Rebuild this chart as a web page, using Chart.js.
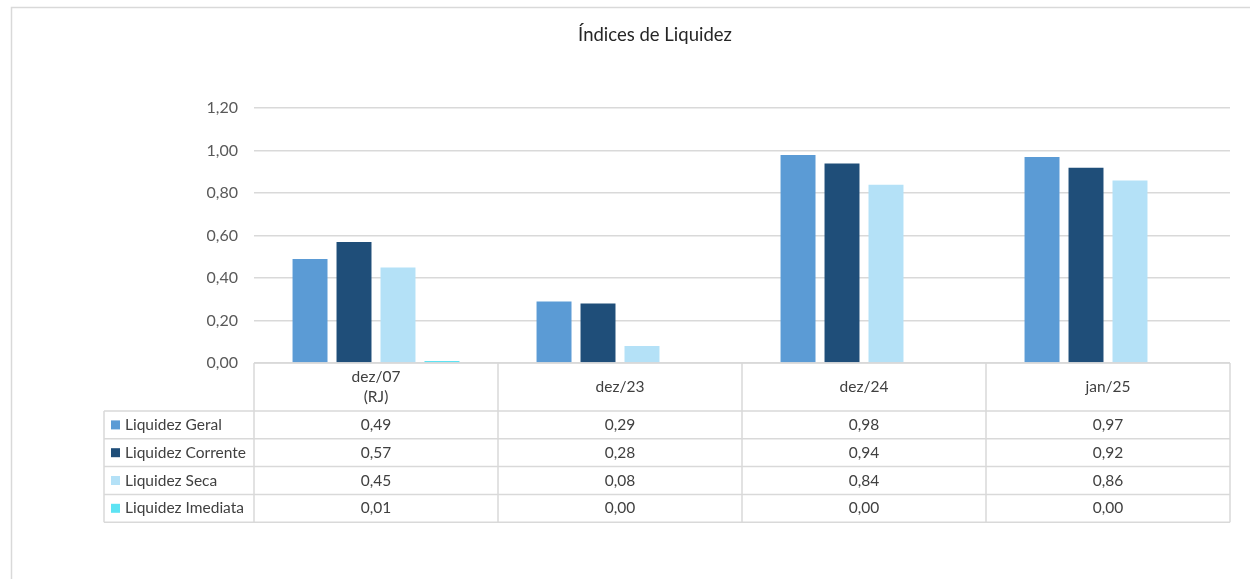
<!DOCTYPE html>
<html>
<head>
<meta charset="utf-8">
<title>Índices de Liquidez</title>
<script src="https://cdn.jsdelivr.net/npm/chart.js@4/dist/chart.umd.min.js"></script>
<style>
    html, body { margin: 0; padding: 0; background: #ffffff; }
    #grafico { display: block; }
</style>
</head>
<body>
<canvas id="grafico" width="1250" height="579"></canvas>
<script>
// dados
var categorias = [["dez/07", "(RJ)"], "dez/23", "dez/24", "jan/25"];
var liquidezGeral = [0.49, 0.29, 0.98, 0.97];
var liquidezCorrente = [0.57, 0.28, 0.94, 0.92];
var liquidezSeca = [0.45, 0.08, 0.84, 0.86];
var liquidezImediata = [0.01, 0.00, 0.00, 0.00];
var nomesSeries = ["Liquidez Geral", "Liquidez Corrente", "Liquidez Seca", "Liquidez Imediata"];
var coresSeries = ["#5B9BD5", "#1F4E79", "#B4E1F7", "#5DE3F3"];
var eixoYMax = 1.2;
var eixoYPasso = 0.2;

var fonte = "Lato, 'Liberation Sans', sans-serif";

function formatar(v) {
    return v.toFixed(2).replace(".", ",");
}

// moldura cinza do gráfico (só esquerda e topo aparecem)
var moldura = {
    id: "moldura",
    beforeDraw: function (chart) {
        var ctx = chart.ctx;
        ctx.save();
        ctx.strokeStyle = "#d9d9d9";
        ctx.lineWidth = 1.5;
        ctx.beginPath();
        ctx.moveTo(11.5, 579);
        ctx.lineTo(11.5, 7.5);
        ctx.lineTo(1250, 7.5);
        ctx.stroke();
        ctx.restore();
    }
};

// tabela de dados abaixo do gráfico
var tabela = {
    id: "tabela",
    afterDraw: function (chart) {
        var ctx = chart.ctx;
        var x = chart.scales.x;
        var area = chart.chartArea;
        var n = categorias.length;
        var larg = (area.right - area.left) / n;
        var topo = area.bottom;
        var altCab = 48;
        var altLinha = 27.8;
        var esq = 104;
        var fim = topo + altCab + altLinha * chart.data.datasets.length;

        ctx.save();
        ctx.strokeStyle = "#d9d9d9";
        ctx.lineWidth = 1.5;

        // linhas horizontais
        ctx.beginPath();
        ctx.moveTo(area.left, topo);
        ctx.lineTo(area.right, topo);
        for (var r = 0; r <= chart.data.datasets.length; r++) {
            var yl = topo + altCab + r * altLinha;
            ctx.moveTo(esq, yl);
            ctx.lineTo(area.right, yl);
        }
        // linhas verticais
        ctx.moveTo(esq, topo + altCab);
        ctx.lineTo(esq, fim);
        for (var c = 0; c <= n; c++) {
            var xl = area.left + c * larg;
            ctx.moveTo(xl, topo);
            ctx.lineTo(xl, fim);
        }
        ctx.stroke();

        ctx.font = "15.5px " + fonte;
        ctx.fillStyle = "#404040";
        ctx.textBaseline = "middle";
        ctx.textAlign = "center";

        // cabeçalho com as categorias
        for (var i = 0; i < n; i++) {
            var cx = x.getPixelForValue(i);
            var rot = categorias[i];
            var meio = topo + altCab / 2;
            if (Array.isArray(rot)) {
                ctx.fillText(rot[0], cx, meio - 10);
                ctx.fillText(rot[1], cx, meio + 10);
            } else {
                ctx.fillText(rot, cx, meio);
            }
        }

        // valores de cada série
        chart.data.datasets.forEach(function (ds, k) {
            var ym = topo + altCab + k * altLinha + altLinha / 2;
            ctx.fillStyle = ds.backgroundColor;
            ctx.fillRect(111, ym - 4.5, 9, 9);
            ctx.fillStyle = "#404040";
            ctx.textAlign = "left";
            ctx.fillText(ds.label, 125, ym);
            ctx.textAlign = "center";
            ds.data.forEach(function (v, i) {
                ctx.fillText(formatar(v), x.getPixelForValue(i), ym);
            });
        });
        ctx.restore();
    }
};

var series = [liquidezGeral, liquidezCorrente, liquidezSeca, liquidezImediata];
var datasets = [];
for (var s = 0; s < series.length; s++) {
    datasets.push({
        label: nomesSeries[s],
        data: series[s],
        backgroundColor: coresSeries[s],
        categoryPercentage: 0.721,
        barPercentage: 0.795
    });
}

var ctx = document.getElementById("grafico").getContext("2d");
var grafico = new Chart(ctx, {
    type: "bar",
    data: {
        labels: categorias,
        datasets: datasets
    },
    options: {
        responsive: false,
        animation: false,
        layout: {
            padding: { left: 80, right: 20, top: 0, bottom: 216 }
        },
        plugins: {
            legend: { display: false },
            tooltip: { enabled: false },
            title: {
                display: true,
                text: "Índices de Liquidez",
                color: "#262626",
                font: { family: fonte, size: 18.5, weight: "normal" },
                padding: { top: 24, bottom: 62 }
            }
        },
        scales: {
            x: {
                display: false
            },
            y: {
                min: 0,
                max: eixoYMax,
                afterFit: function (scale) {
                    scale.width = 174;
                },
                border: { display: false },
                grid: {
                    color: "#d9d9d9",
                    lineWidth: 1.5,
                    drawTicks: false
                },
                ticks: {
                    stepSize: eixoYPasso,
                    padding: 16,
                    color: "#595959",
                    font: { family: fonte, size: 16 },
                    callback: function (v) { return formatar(v); }
                }
            }
        }
    },
    plugins: [moldura, tabela]
});
</script>
</body>
</html>
